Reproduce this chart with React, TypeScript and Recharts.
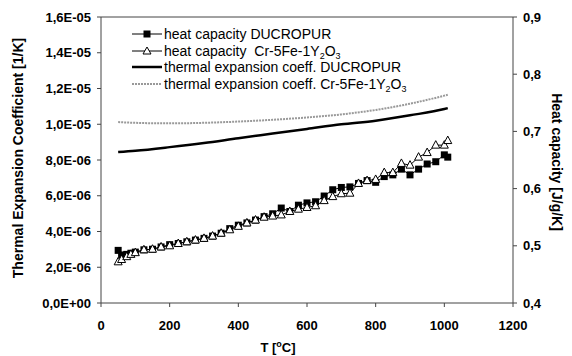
import {
  ComposedChart,
  Line,
  XAxis,
  YAxis,
  Label,
  Legend,
  ReferenceLine,
} from "recharts";

// heat capacity measurements, temperature in °C
const HC_TEMPS = [
  50, 60, 75, 87, 100, 125, 150, 175, 200, 225, 250, 275, 300, 325, 350, 375,
  400, 425, 450, 475, 500, 525, 550, 575, 600, 625, 650, 675, 700, 725, 750,
  775, 800, 825, 850, 875, 900, 925, 950, 975, 1000, 1010,
];

// J/g/K
const HC_DUCROPUR = [
  0.492, 0.484, 0.485, 0.487, 0.489, 0.493, 0.494, 0.498, 0.502, 0.504, 0.507,
  0.51, 0.513, 0.517, 0.522, 0.53, 0.536, 0.54, 0.545, 0.551, 0.556, 0.566,
  0.56, 0.571, 0.575, 0.577, 0.587, 0.598, 0.602, 0.603, 0.609, 0.614, 0.611,
  0.621, 0.624, 0.634, 0.624, 0.634, 0.643, 0.647, 0.659, 0.655,
];

const HC_CR5FE = [
  0.472, 0.476, 0.481, 0.485, 0.488, 0.493, 0.494, 0.498, 0.5, 0.504, 0.507,
  0.51, 0.513, 0.517, 0.522, 0.528, 0.534, 0.54, 0.545, 0.55, 0.552, 0.554,
  0.56, 0.564, 0.567, 0.57, 0.579, 0.586, 0.591, 0.592, 0.609, 0.614, 0.616,
  0.628, 0.628, 0.644, 0.641, 0.655, 0.663, 0.676, 0.676, 0.684,
];

// thermal expansion coefficient, 1/K
const CTE_TEMPS = [50, 100, 200, 300, 400, 500, 600, 700, 800, 900, 1000, 1010];

const CTE_DUCROPUR = [
  8.45e-6, 8.52e-6, 8.72e-6, 8.95e-6, 9.22e-6, 9.48e-6, 9.74e-6, 10.0e-6,
  10.2e-6, 10.5e-6, 10.85e-6, 10.9e-6,
];

const CTE_CR5FE = [
  10.12e-6, 10.08e-6, 10.05e-6, 10.08e-6, 10.15e-6, 10.25e-6, 10.38e-6,
  10.55e-6, 10.8e-6, 11.15e-6, 11.6e-6, 11.65e-6,
];

const X_TICKS = [0, 200, 400, 600, 800, 1000, 1200];
const LEFT_TICKS = [0, 2e-6, 4e-6, 6e-6, 8e-6, 10e-6, 12e-6, 14e-6, 16e-6];
const RIGHT_TICKS = [0.4, 0.5, 0.6, 0.7, 0.8, 0.9];

const FONT = "'Liberation Sans', Arial, sans-serif";

const fmtSci = (v: number) => {
  if (v === 0) return "0,0E+00";
  const [m, e] = v.toExponential(1).split("e");
  const n = parseInt(e, 10);
  const exp = (n < 0 ? "-" : "+") + String(Math.abs(n)).padStart(2, "0");
  return m.replace(".", ",") + "E" + exp;
};

const fmtComma = (v: number) => v.toFixed(1).replace(".", ",");

const SquareDot = (props: any) => {
  const { cx, cy } = props;
  if (cx == null || cy == null) return null;
  return <rect x={cx - 3.5} y={cy - 3.5} width={7} height={7} fill="#000" />;
};

const TriangleDot = (props: any) => {
  const { cx, cy } = props;
  if (cx == null || cy == null) return null;
  return (
    <polygon
      points={`${cx},${cy - 4.5} ${cx + 4},${cy + 3} ${cx - 4},${cy + 3}`}
      fill="#fff"
      stroke="#000"
      strokeWidth={1}
    />
  );
};

const Sub = ({ children }: { children: string }) => (
  <span
    style={{
      fontSize: 9,
      position: "relative",
      top: 3,
      lineHeight: 0,
      verticalAlign: "baseline",
    }}
  >
    {children}
  </span>
);

const LegendBox = () => {
  const row = { display: "flex", alignItems: "center", height: 16.5 };
  const txt = { marginLeft: 2, whiteSpace: "nowrap" as const, lineHeight: "14px" };
  return (
    <div style={{ fontFamily: FONT, fontSize: 14, color: "#000" }}>
      <div style={row}>
        <svg width={30} height={10}>
          <line x1={0} y1={5} x2={30} y2={5} stroke="#000" />
          <rect x={11.5} y={1.5} width={7} height={7} fill="#000" />
        </svg>
        <span style={txt}>heat capacity DUCROPUR</span>
      </div>
      <div style={row}>
        <svg width={30} height={10}>
          <line x1={0} y1={5} x2={30} y2={5} stroke="#000" />
          <polygon points="15,1 19,8 11,8" fill="#fff" stroke="#000" />
        </svg>
        <span style={txt}>
          heat capacity&nbsp; Cr-5Fe-1Y<Sub>2</Sub>O<Sub>3</Sub>
        </span>
      </div>
      <div style={row}>
        <svg width={30} height={10}>
          <line x1={0} y1={5} x2={30} y2={5} stroke="#000" strokeWidth={2.5} />
        </svg>
        <span style={txt}>thermal expansion coeff. DUCROPUR</span>
      </div>
      <div style={row}>
        <svg width={30} height={10}>
          <line
            x1={0}
            y1={5}
            x2={30}
            y2={5}
            stroke="#999"
            strokeWidth={2}
            strokeDasharray="2 1"
          />
        </svg>
        <span style={txt}>
          thermal expansion coeff. Cr-5Fe-1Y<Sub>2</Sub>O<Sub>3</Sub>
        </span>
      </div>
    </div>
  );
};

export default function App() {
  const hcData = HC_TEMPS.map((t, i) => ({
    t,
    ducropur: HC_DUCROPUR[i],
    cr5fe: HC_CR5FE[i],
  }));
  const cteData = CTE_TEMPS.map((t, i) => ({
    t,
    ducropur: CTE_DUCROPUR[i],
    cr5fe: CTE_CR5FE[i],
  }));

  const tickStyle = { fill: "#000", fontSize: 13, fontWeight: "bold", fontFamily: FONT };

  return (
    <div
      style={{
        position: "absolute",
        left: 0,
        top: 0,
        width: 572,
        height: 356,
        background: "#fff",
      }}
    >
      <ComposedChart
        width={572}
        height={356}
        margin={{ top: 17, right: 0, bottom: 0, left: 0 }}
      >
        <XAxis
          type="number"
          dataKey="t"
          domain={[0, 1200]}
          ticks={X_TICKS}
          height={53}
          tick={tickStyle}
          tickSize={4}
          tickMargin={14}
          axisLine={{ stroke: "#444" }}
          tickLine={{ stroke: "#444" }}
          allowDataOverflow
        >
          <Label
            content={() => (
              <text
                x={278}
                y={352}
                textAnchor="middle"
                fontFamily={FONT}
                fontSize={13}
                fontWeight="bold"
                fill="#000"
              >
                T [
                <tspan dy={-5} fontSize={9}>
                  o
                </tspan>
                <tspan dy={5}>C]</tspan>
              </text>
            )}
          />
        </XAxis>
        <YAxis
          yAxisId="left"
          domain={[0, 16e-6]}
          ticks={LEFT_TICKS}
          width={101}
          tick={tickStyle}
          tickFormatter={fmtSci}
          tickSize={4}
          tickMargin={6}
          axisLine={{ stroke: "#444" }}
          tickLine={{ stroke: "#444" }}
          allowDataOverflow
        >
          <Label
            content={() => (
              <text
                x={18}
                y={158}
                transform="rotate(-90 18 158)"
                textAnchor="middle"
                dominantBaseline="central"
                fontFamily={FONT}
                fontSize={14}
                fontWeight="bold"
                fill="#000"
              >
                Thermal Expansion Coefficient [1/K]
              </text>
            )}
          />
        </YAxis>
        <YAxis
          yAxisId="right"
          orientation="right"
          domain={[0.4, 0.9]}
          ticks={RIGHT_TICKS}
          width={59}
          tick={tickStyle}
          tickFormatter={fmtComma}
          tickSize={4}
          tickMargin={6}
          axisLine={{ stroke: "#444" }}
          tickLine={{ stroke: "#444" }}
          allowDataOverflow
        >
          <Label
            content={() => (
              <text
                x={557}
                y={162}
                transform="rotate(90 557 162)"
                textAnchor="middle"
                dominantBaseline="central"
                fontFamily={FONT}
                fontSize={14}
                fontWeight="bold"
                fill="#000"
              >
                Heat capacity [J/g/K]
              </text>
            )}
          />
        </YAxis>

        <ReferenceLine yAxisId="left" y={16e-6} stroke="#444" />

        <Line
          data={cteData}
          yAxisId="left"
          dataKey="cr5fe"
          type="monotone"
          stroke="#999"
          strokeWidth={2}
          strokeDasharray="2 1"
          dot={false}
          isAnimationActive={false}
        />
        <Line
          data={cteData}
          yAxisId="left"
          dataKey="ducropur"
          type="monotone"
          stroke="#000"
          strokeWidth={2.5}
          dot={false}
          isAnimationActive={false}
        />
        <Line
          data={hcData}
          yAxisId="right"
          dataKey="ducropur"
          stroke="#000"
          strokeWidth={1}
          dot={<SquareDot />}
          isAnimationActive={false}
        />
        <Line
          data={hcData}
          yAxisId="right"
          dataKey="cr5fe"
          stroke="#000"
          strokeWidth={1}
          dot={<TriangleDot />}
          isAnimationActive={false}
        />

        <Legend
          layout="vertical"
          align="center"
          verticalAlign="middle"
          wrapperStyle={{ top: 26, left: 132, width: 320 }}
          content={<LegendBox />}
        />
      </ComposedChart>
    </div>
  );
}
